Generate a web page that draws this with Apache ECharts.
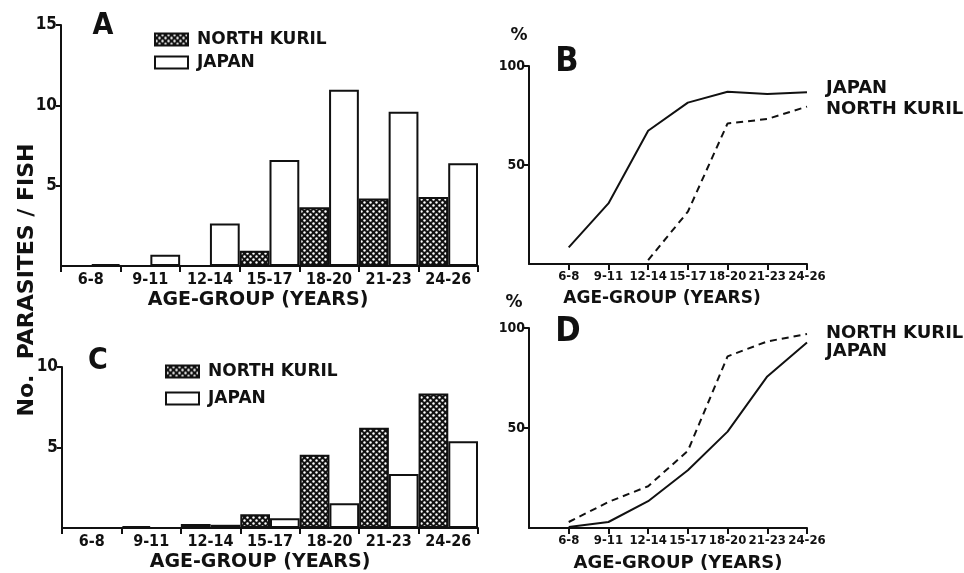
<!DOCTYPE html>
<html>
<head>
<meta charset="utf-8">
<script src="https://cdn.jsdelivr.net/npm/echarts@6/dist/echarts.min.js"></script>
<style>html,body{margin:0;padding:0;background:#fff}#c{width:964px;height:573px}</style>
</head>
<body>
<div id="c"></div>
<script>
// ---------- data ----------
var ageGroups = ['6-8', '9-11', '12-14', '15-17', '18-20', '21-23', '24-26'];
// Panel A: parasites per fish
var aNorthKuril = [0, 0, 0, 0.95, 3.65, 4.2, 4.3];
var aJapan      = [0.12, 0.7, 2.65, 6.6, 10.97, 9.6, 6.4];
// Panel C: parasites per fish
var cNorthKuril = [0, 0.12, 0.25, 0.85, 4.55, 6.23, 8.35];
var cJapan      = [0, 0, 0.2, 0.6, 1.54, 3.35, 5.39];
// Panel B: % infected
var bJapan      = [8.4, 30.6, 67.3, 81.5, 87.0, 85.9, 86.7];
var bNorthKuril = [null, null, 2.0, 26.4, 71.0, 73.2, 79.5];
// Panel D: % infected
var dJapan      = [0.5, 3.0, 13.4, 28.9, 48.2, 75.8, 92.8];
var dNorthKuril = [3.0, 13.0, 20.9, 38.6, 85.8, 93.3, 97.0];
var yTicksA = [5, 10, 15];
var yTicksC = [5, 10];
var yTicksPct = [50, 100];

// ---------- styles ----------
var INK = '#111';
var FONT = '"DejaVu Sans Condensed", "DejaVu Sans", sans-serif';
var FONT2 = '"DejaVu Sans", sans-serif';

function hatch() {
  var cv = document.createElement('canvas');
  cv.width = 6; cv.height = 6;
  var g = cv.getContext('2d');
  g.fillStyle = INK; g.fillRect(0, 0, 6, 6);
  g.fillStyle = '#fff';
  g.beginPath(); g.arc(1.5, 1.5, 1.2, 0, Math.PI * 2); g.fill();
  g.beginPath(); g.arc(4.5, 4.5, 1.2, 0, Math.PI * 2); g.fill();
  return { image: cv, repeat: 'repeat' };
}
var hatchFill = hatch();

function catAxis(gridIndex, data, fontSize, boundaryGap) {
  return {
    type: 'category', gridIndex: gridIndex, data: data, boundaryGap: boundaryGap,
    axisLine: { show: true, lineStyle: { color: INK, width: 2 } },
    axisTick: { show: true, length: 6, lineStyle: { color: INK, width: 2 },
      interval: boundaryGap ? 0 : function (i) { return i > 0; } },
    axisLabel: { interval: 0, color: INK, fontFamily: FONT, fontWeight: 'bold', fontSize: fontSize, margin: 6 },
    splitLine: { show: false }
  };
}
function valAxis(gridIndex, max, interval, fontSize) {
  return {
    type: 'value', gridIndex: gridIndex, min: 0, max: max, interval: interval,
    axisLine: { show: true, lineStyle: { color: INK, width: 2 } },
    axisTick: { show: true, length: 5, lineStyle: { color: INK, width: 2 } },
    axisLabel: { showMinLabel: false, color: INK, fontFamily: FONT, fontWeight: 'bold', fontSize: fontSize, margin: 4 },
    splitLine: { show: false }
  };
}
function barSeries(name, xi, data, fill) {
  return {
    type: 'bar', name: name, xAxisIndex: xi, yAxisIndex: xi, data: data,
    barGap: '0%', barCategoryGap: '0%',
    itemStyle: { color: fill, borderColor: INK, borderWidth: 2 },
    emphasis: { disabled: true }, animation: false
  };
}
function lineSeries(name, xi, data, dashed) {
  return {
    type: 'line', name: name, xAxisIndex: xi, yAxisIndex: xi, data: [null].concat(data),
    symbol: 'none', showSymbol: false, connectNulls: false,
    lineStyle: { color: INK, width: 2, type: dashed ? [7, 5] : 'solid' },
    itemStyle: { color: INK }, emphasis: { disabled: true }, animation: false
  };
}
function txt(x, y, s, size, opts) {
  opts = opts || {};
  return {
    type: 'text', x: x, y: y, rotation: opts.rotation || 0, silent: true,
    style: { text: s, fill: INK, font: 'bold ' + size + 'px ' + (opts.font || FONT),
      textAlign: opts.align || 'center', textVerticalAlign: 'middle' }
  };
}

var lineCats = [''].concat(ageGroups);
var legendBase = {
  orient: 'vertical', icon: 'rect', itemWidth: 33, itemHeight: 12, padding: 0,
  selectedMode: false, data: ['NORTH KURIL', 'JAPAN'],
  textStyle: { color: INK, fontFamily: FONT2, fontWeight: 'bold', fontSize: 17, padding: [0, 0, 0, 4] }
};

var chart = echarts.init(document.getElementById('c'), null, { renderer: 'canvas' });
chart.setOption({
  animation: false,
  backgroundColor: '#fff',
  grid: [
    { left: 61, top: 25, width: 417, height: 241 },
    { left: 529, top: 66, width: 278, height: 198 },
    { left: 62, top: 367, width: 416, height: 161 },
    { left: 529, top: 328, width: 278, height: 200 }
  ],
  xAxis: [
    catAxis(0, ageGroups, 16, true),
    catAxis(1, lineCats, 13, false),
    catAxis(2, ageGroups, 16, true),
    catAxis(3, lineCats, 13, false)
  ],
  yAxis: [
    valAxis(0, yTicksA[yTicksA.length - 1], yTicksA[0], 17),
    valAxis(1, yTicksPct[yTicksPct.length - 1], yTicksPct[0], 14),
    valAxis(2, yTicksC[yTicksC.length - 1], yTicksC[0], 17),
    valAxis(3, yTicksPct[yTicksPct.length - 1], yTicksPct[0], 14)
  ],
  legend: [
    Object.assign({}, legendBase, { left: 154, top: 31, itemGap: 6 }),
    Object.assign({}, legendBase, { left: 165, top: 363, itemGap: 10 })
  ],
  series: [
    barSeries('NORTH KURIL', 0, aNorthKuril, hatchFill),
    barSeries('JAPAN', 0, aJapan, '#fff'),
    lineSeries('JAPAN', 1, bJapan, false),
    lineSeries('NORTH KURIL', 1, bNorthKuril, true),
    barSeries('NORTH KURIL', 2, cNorthKuril, hatchFill),
    barSeries('JAPAN', 2, cJapan, '#fff'),
    lineSeries('JAPAN', 3, dJapan, false),
    lineSeries('NORTH KURIL', 3, dNorthKuril, true)
  ],
  graphic: [
    txt(103, 26, 'A', 30),
    txt(98, 361, 'C', 30),
    txt(567, 62, 'B', 34),
    txt(568, 332, 'D', 34),
    txt(519, 36, '%', 17, { font: FONT2 }),
    txt(514, 303, '%', 17, { font: FONT2 }),
    txt(27, 280, 'No.  PARASITES / FISH', 22, { rotation: Math.PI / 2, font: FONT2 }),
    txt(258, 300, 'AGE-GROUP (YEARS)', 19, { font: FONT2 }),
    txt(260, 562, 'AGE-GROUP (YEARS)', 19, { font: FONT2 }),
    txt(662, 299, 'AGE-GROUP (YEARS)', 17, { font: FONT2 }),
    txt(678, 563, 'AGE-GROUP (YEARS)', 18, { font: FONT2 }),
    txt(826, 88, 'JAPAN', 18, { align: 'left', font: FONT2 }),
    txt(826, 109, 'NORTH KURIL', 18, { align: 'left', font: FONT2 }),
    txt(826, 333, 'NORTH KURIL', 18, { align: 'left', font: FONT2 }),
    txt(826, 351, 'JAPAN', 18, { align: 'left', font: FONT2 })
  ]
});
</script>
</body>
</html>
